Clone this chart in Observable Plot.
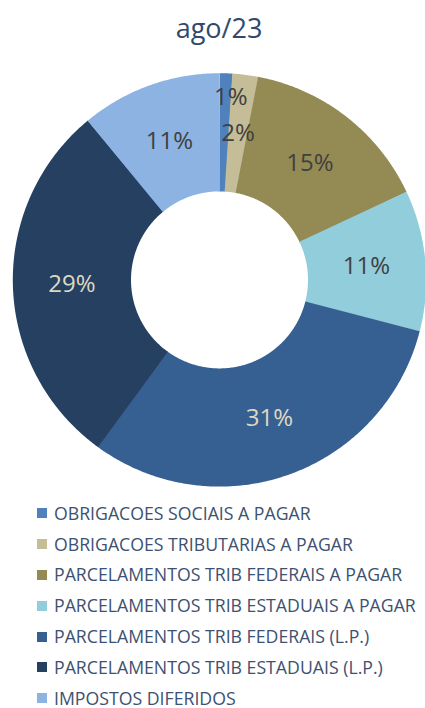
<!DOCTYPE html>
<html>
<head>
<meta charset="utf-8">
<script src="https://cdn.jsdelivr.net/npm/d3@7"></script>
<script src="https://cdn.jsdelivr.net/npm/@observablehq/plot@0.6"></script>
<style>
  html, body { margin: 0; padding: 0; background: #fff; overflow: hidden; }
  body { width: 425px; height: 708px; font-family: "Open Sans", sans-serif; }
  #title { box-sizing: border-box; width: 425px; height: 50px; padding-left: 13px; text-align: center;
           font-size: 27px; line-height: 50px; color: #2f4a6d; position: relative; top: 3px; }
  #chart { height: 450px; }
  #legend { box-sizing: border-box; padding-left: 37px; margin-top: -2px; }
  .row { display: flex; align-items: center; height: 30.8px; line-height: 17px; font-size: 17.7px; color: #3d5170; white-space: nowrap; }
  .sw { width: 10px; height: 10px; margin-right: 7px; flex: none; }
</style>
</head>
<body>
<div id="title"></div>
<div id="chart"></div>
<div id="legend"></div>
<script>
const title = "ago/23";
const categories = [
  "OBRIGACOES SOCIAIS A PAGAR",
  "OBRIGACOES TRIBUTARIAS A PAGAR",
  "PARCELAMENTOS TRIB FEDERAIS A PAGAR",
  "PARCELAMENTOS TRIB ESTADUAIS A PAGAR",
  "PARCELAMENTOS TRIB FEDERAIS (L.P.)",
  "PARCELAMENTOS TRIB ESTADUAIS (L.P.)",
  "IMPOSTOS DIFERIDOS"
];
const values = [1, 2, 15, 11, 31, 29, 11];

const palette = ["#4f81bd", "#c4bd97", "#948a54", "#92cddc", "#376092", "#254061", "#8db3e2"];
const darkSlices = new Set([4, 5]);

// geometry (pixels)
const W = 425, H = 450;
const cx = 219, cy = 229.4, R = 206.7, r = 88.5;
const rm = (R + r) / 2 / R; // mid radius in data units
const ring = R - r;

const total = d3.sum(values);
const slices = [];
let acc = 0;
values.forEach((v, i) => {
  const a0 = acc / total * 2 * Math.PI;
  acc += v;
  const a1 = acc / total * 2 * Math.PI;
  slices.push({i, cat: categories[i], v, a0, a1});
});

// arc polylines along the mid radius, drawn as thick butt-capped strokes
const arcPts = [];
const ext = 0.002;
slices.forEach(s => {
  const s0 = s.a0 - (s.i > 0 ? ext : 0), s1 = s.a1 + ext;
  const n = Math.max(4, Math.ceil((s1 - s0) / (Math.PI / 360)));
  for (let k = 0; k <= n; k++) {
    const a = s0 + (s1 - s0) * k / n;
    arcPts.push({cat: s.cat, i: s.i, x: rm * Math.sin(a), y: rm * Math.cos(a)});
  }
});

const labels = slices.map(s => {
  let a = (s.a0 + s.a1) / 2, rr = rm;
  if (s.i === 0) { a += 0.03; rr = 183 / R; } // nudge tiny slice label outward
  return {text: s.v + "%", x: rr * Math.sin(a), y: rr * Math.cos(a), dark: darkSlices.has(s.i)};
});

const chart = Plot.plot({
  width: W, height: H,
  margin: 0,
  x: {domain: [-1, 1], range: [cx - R, cx + R], axis: null},
  y: {domain: [-1, 1], range: [cy + R, cy - R], axis: null},
  color: {domain: categories, range: palette},
  style: {fontFamily: "Open Sans, sans-serif", background: "white"},
  marks: [
    Plot.line(arcPts, {x: "x", y: "y", z: "cat", stroke: "cat", strokeWidth: ring,
      strokeLinecap: "butt", strokeLinejoin: "round", curve: "linear"}),
    Plot.text(labels, {x: "x", y: "y", text: "text", fontSize: 24,
      fill: d => d.dark ? "#ddd9c3" : "#404040"})
  ]
});
document.getElementById("chart").appendChild(chart);
document.getElementById("title").textContent = title;

const legend = document.getElementById("legend");
categories.forEach((c, i) => {
  const row = document.createElement("div");
  row.className = "row";
  const sw = document.createElement("span");
  sw.className = "sw";
  sw.style.background = palette[i];
  const t = document.createElement("span");
  t.textContent = c;
  row.appendChild(sw); row.appendChild(t);
  legend.appendChild(row);
});
</script>
</body>
</html>
